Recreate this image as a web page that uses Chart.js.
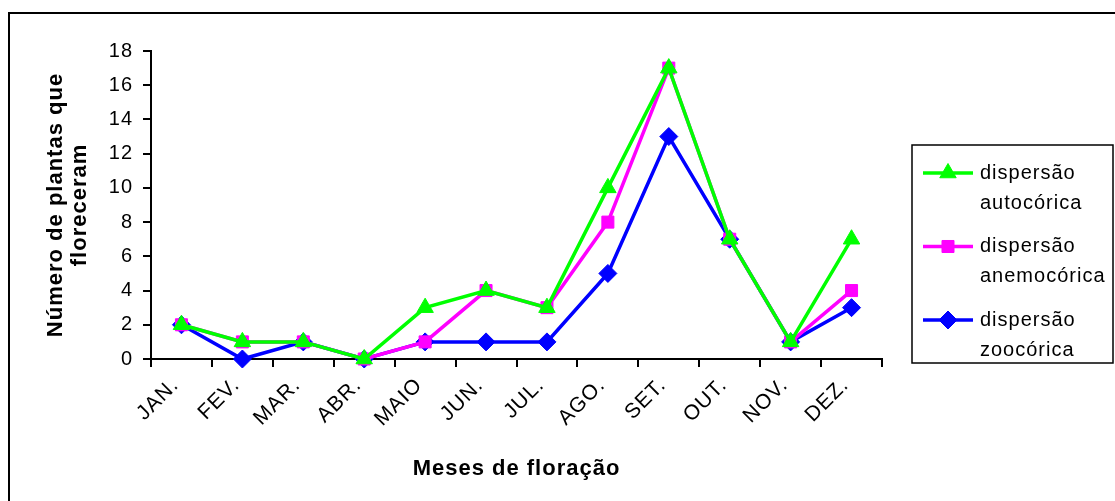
<!DOCTYPE html>
<html>
<head>
<meta charset="utf-8">
<script src="https://cdn.jsdelivr.net/npm/chart.js@4/dist/chart.umd.min.js"></script>
<style>
  html, body { margin: 0; padding: 0; background: #fff; }
  canvas { display: block; }
</style>
</head>
<body>
<canvas id="floracao" width="1115" height="501"></canvas>
<script>
// --- DATA ---
const months = ['JAN.', 'FEV.', 'MAR.', 'ABR.', 'MAIO', 'JUN.', 'JUL.', 'AGO.', 'SET.', 'OUT.', 'NOV.', 'DEZ.'];
const autocorica = [2, 1, 1, 0, 3, 4, 3, 10, 17, 7, 1, 7];
const anemocorica = [2, 1, 1, 0, 1, 4, 3, 8, 17, 7, 1, 4];
const zoocorica = [2, 0, 1, 0, 1, 1, 1, 5, 13, 7, 1, 3];
const seriesNames = [['dispersão', 'autocórica'], ['dispersão', 'anemocórica'], ['dispersão', 'zoocórica']];
const yTitle = ['Número de plantas que', 'floreceram'];
const xTitle = 'Meses de floração';

const FONT = "'Liberation Sans', Arial, sans-serif";
const SPACING = '1px';

// slightly wider Excel-like lettering
const spacingPlugin = {
    id: 'spacing',
    afterInit(chart) { chart.ctx.letterSpacing = SPACING; },
    beforeUpdate(chart) { chart.ctx.letterSpacing = SPACING; },
    beforeDraw(chart) { chart.ctx.letterSpacing = SPACING; }
};

// outer frame (left and top edges only) + boxed legend on the right
const framePlugin = {
    id: 'frame',
    beforeDraw(chart) {
        const ctx = chart.ctx;
        ctx.save();
        ctx.fillStyle = '#000';
        ctx.fillRect(8, 12, 2, 489);
        ctx.fillRect(8, 12, 1107, 2);
        ctx.restore();
    },
    afterDraw(chart) {
        const ctx = chart.ctx;
        ctx.save();
        ctx.strokeStyle = '#000';
        ctx.lineWidth = 1.5;
        ctx.strokeRect(912, 145, 201, 218);
        chart.data.datasets.forEach((ds, i) => {
            const y = 173 + i * 73.5;
            ctx.strokeStyle = ds.borderColor;
            ctx.fillStyle = ds.backgroundColor;
            ctx.lineWidth = 3.5;
            ctx.beginPath();
            ctx.moveTo(923, y);
            ctx.lineTo(973, y);
            ctx.stroke();
            ctx.lineWidth = 1;
            Chart.helpers.drawPoint(ctx, { pointStyle: ds.pointStyle, radius: ds.pointRadius, rotation: 0, borderWidth: 1 }, 948, y);
            ctx.fillStyle = '#000';
            ctx.font = '20px ' + FONT;
            ctx.letterSpacing = SPACING;
            ctx.textAlign = 'left';
            ctx.textBaseline = 'middle';
            seriesNames[i].forEach((t, j) => ctx.fillText(t, 980, y + j * 30));
        });
        ctx.restore();
    }
};

function line(name, data, color, style, radius) {
    return {
        label: name.join(' '),
        data: data,
        borderColor: color,
        backgroundColor: color,
        borderWidth: 3.5,
        pointStyle: style,
        pointRadius: radius,
        pointHoverRadius: radius,
        pointBorderWidth: 1,
        pointBorderColor: color,
        pointBackgroundColor: color,
        tension: 0,
        clip: false
    };
}

new Chart(document.getElementById('floracao'), {
    type: 'line',
    data: {
        labels: months,
        datasets: [
            line(seriesNames[0], autocorica, '#00ff00', 'triangle', 9.5),
            line(seriesNames[1], anemocorica, '#ff00ff', 'rect', 8.5),
            line(seriesNames[2], zoocorica, '#0000ff', 'rectRot', 9)
        ]
    },
    options: {
        responsive: false,
        animation: false,
        devicePixelRatio: 1,
        layout: { padding: { left: 0, top: 51, right: 233, bottom: 0 } },
        plugins: { legend: { display: false }, tooltip: { enabled: false } },
        scales: {
            x: {
                offset: true,
                grid: { offset: true, drawOnChartArea: false, drawTicks: true, tickLength: 8, color: '#000', lineWidth: 2 },
                border: { display: true, color: '#000', width: 2 },
                ticks: {
                    autoSkip: false, minRotation: 45, maxRotation: 45, padding: 6, labelOffset: -6,
                    color: '#000', font: { family: FONT, size: 21 }
                },
                title: {
                    display: true, text: xTitle, color: '#000',
                    font: { family: FONT, size: 22, weight: 'bold', lineHeight: 1.1 },
                    padding: { top: 0, bottom: 20 }
                },
                afterFit(scale) { scale.height = 142; }
            },
            y: {
                min: 0, max: 18,
                grid: { drawOnChartArea: false, drawTicks: true, tickLength: 8, color: '#000', lineWidth: 2 },
                border: { display: true, color: '#000', width: 2 },
                ticks: { stepSize: 2, padding: 10, color: '#000', font: { family: FONT, size: 20 } },
                title: {
                    display: true, text: yTitle, color: '#000',
                    font: { family: FONT, size: 22, weight: 'bold', lineHeight: 1.1 },
                    padding: { top: 44, bottom: 0 }
                },
                afterFit(scale) { scale.width = 151; }
            }
        }
    },
    plugins: [spacingPlugin, framePlugin]
});
</script>
</body>
</html>
